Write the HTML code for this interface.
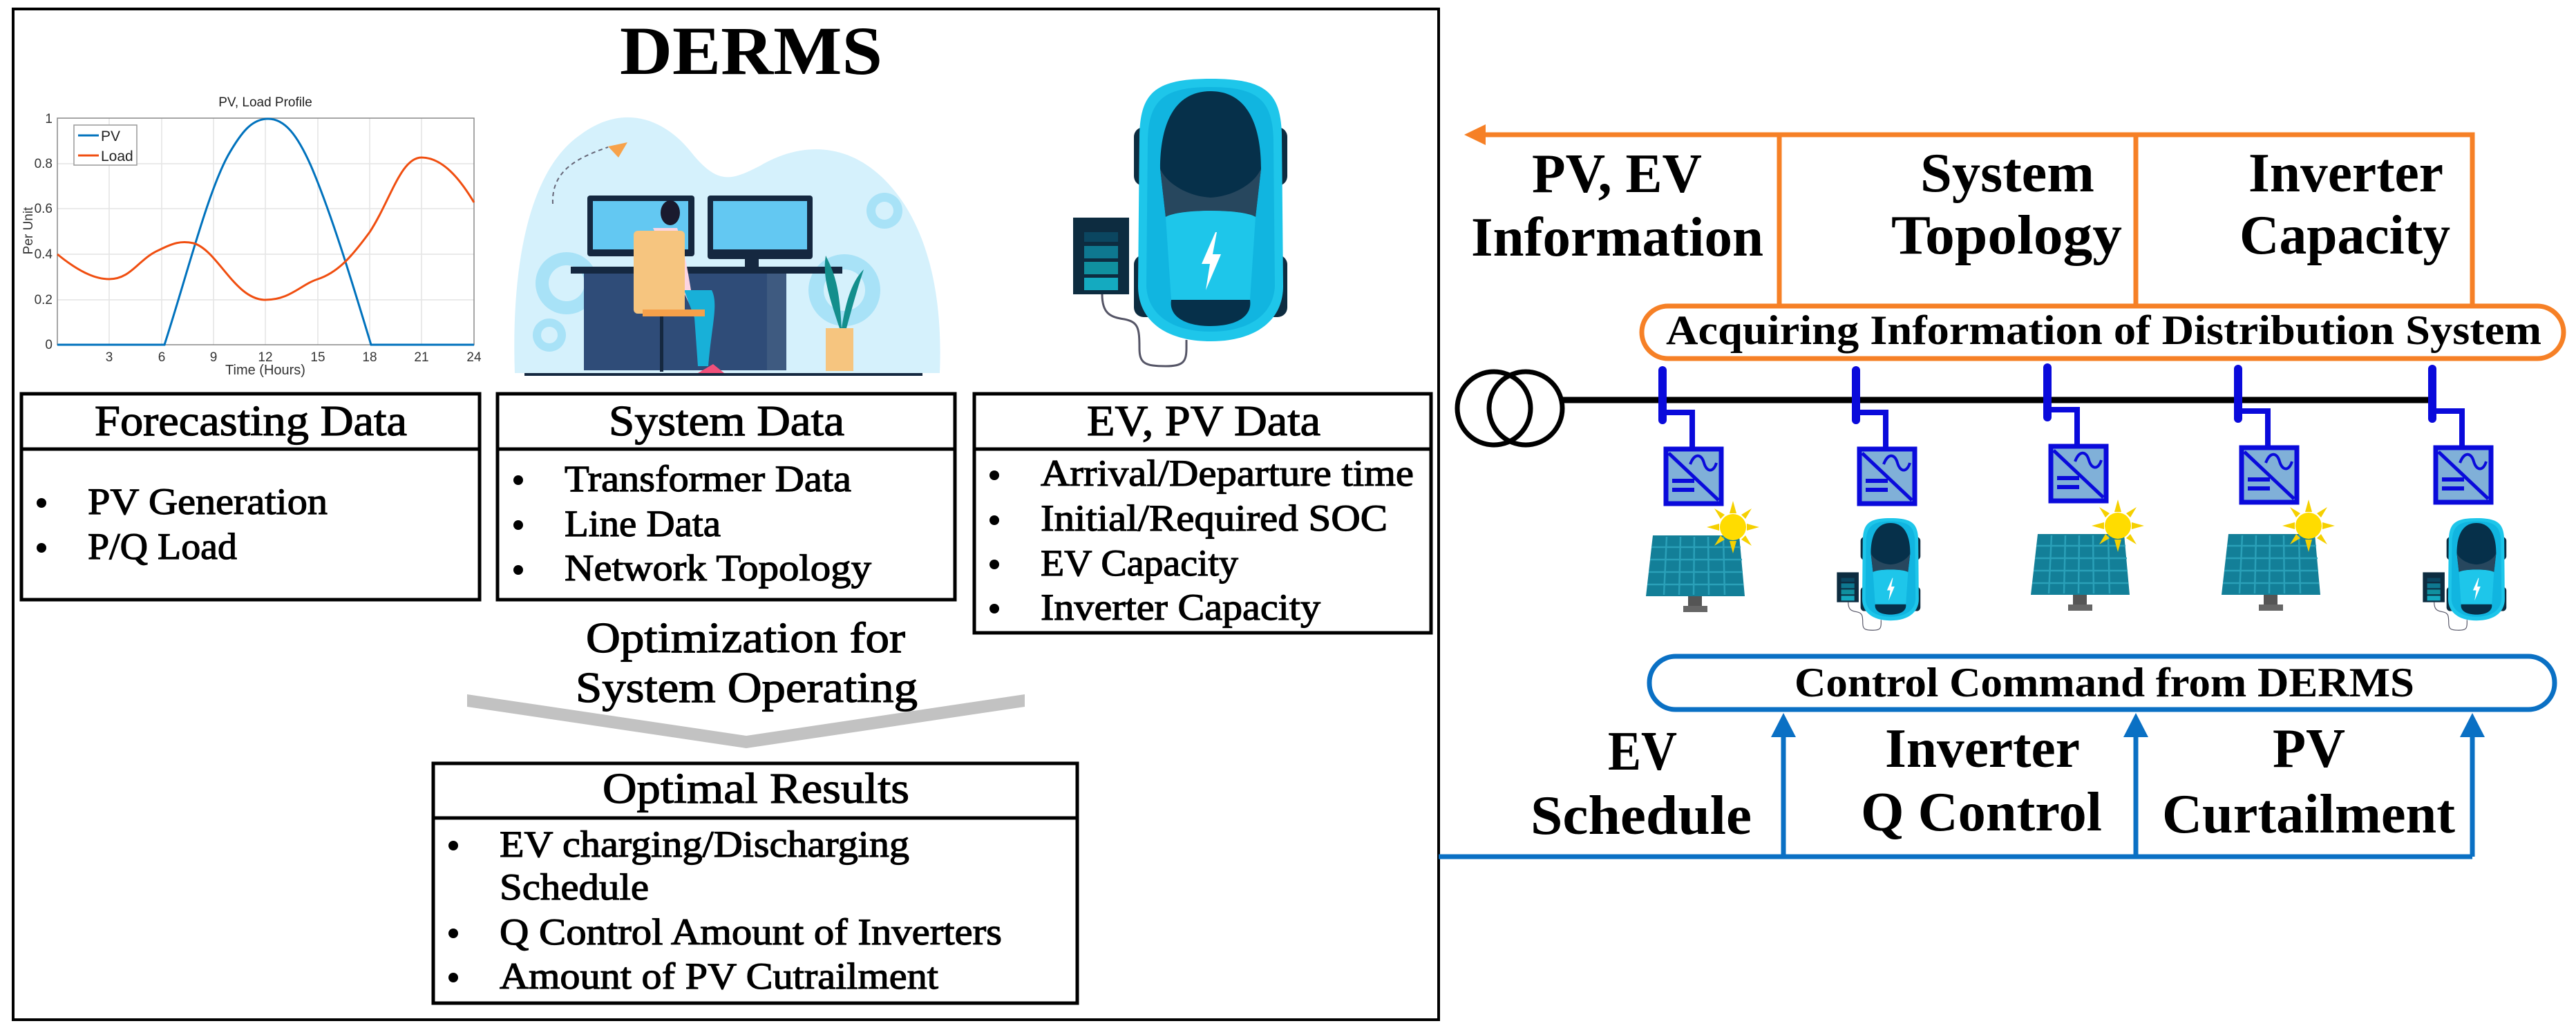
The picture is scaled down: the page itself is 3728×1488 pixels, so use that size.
<!DOCTYPE html>
<html><head><meta charset="utf-8"><style>
html,body{margin:0;padding:0;background:#fff}
svg{display:block}
.s{font-family:"Liberation Serif",serif;stroke:#000;stroke-width:1.2}
.b{font-family:"Liberation Serif",serif;font-weight:bold}
.a{font-family:"Liberation Sans",sans-serif}
</style></head><body>
<svg width="3728" height="1488" viewBox="0 0 3728 1488" xmlns="http://www.w3.org/2000/svg">
<defs>
<g id="car">
  <rect x="-6" y="70" width="222" height="85" rx="14" fill="#0d2c40"/>
  <rect x="-6" y="255" width="222" height="90" rx="14" fill="#0d2c40"/>
  <path d="M105,0 C185,0 206,20 208,80 L210,300 C210,350 170,380 105,380 C40,380 0,350 0,300 L2,80 C4,20 25,0 105,0 Z" fill="#1ec6ea"/>
  <path d="M105,12 C172,12 195,30 196,90 L198,300 C196,342 160,366 105,366 C50,366 14,342 12,300 L14,90 C15,30 38,12 105,12 Z" fill="#11b5e0"/>
  <path d="M105,18 C160,18 178,70 178,130 L170,200 C150,188 60,188 40,200 L32,130 C32,70 50,18 105,18 Z" fill="#06304a"/>
  <path d="M40,200 C60,188 150,188 170,200 L178,130 C170,150 140,170 105,172 C70,170 40,150 32,130 Z" fill="#27475e"/>
  <path d="M40,200 C60,188 150,188 170,200 L162,320 L48,320 Z" fill="#1ec6ea"/>
  <path d="M48,320 L162,320 C166,345 140,358 105,358 C70,358 44,345 48,320 Z" fill="#06304a"/>
  <polygon points="112,222 92,268 104,268 98,306 120,254 108,254 114,222" fill="#fff"/>
  <rect x="-94" y="201" width="81" height="111" fill="#0d2c40"/>
  <rect x="-78" y="222" width="49" height="14" fill="#0b4660"/>
  <rect x="-78" y="242" width="49" height="18" fill="#0e7890"/>
  <rect x="-78" y="265" width="49" height="18" fill="#10909f"/>
  <rect x="-78" y="288" width="49" height="18" fill="#14aac0"/>
  <path d="M-52,312 C-52,340 -40,345 -20,348 C0,352 2,360 2,390 C2,412 10,416 40,416 C65,416 70,410 70,390 L70,378" fill="none" stroke="#556" stroke-width="3"/>
</g>
<g id="inv">
  <path d="M0,-39 L43,-39 L43,14" fill="none" stroke="#0a0adb" stroke-width="8"/>
  <path d="M0,-100 L0,-28" stroke="#0a0adb" stroke-width="12" stroke-linecap="round"/>
  <rect x="5" y="14" width="80" height="79" fill="#80b0d8" stroke="#0a0adb" stroke-width="7"/>
  <line x1="9" y1="20" x2="81" y2="88" stroke="#0a0adb" stroke-width="5"/>
  <path d="M40,36 C46,20 56,20 60,34 C64,48 74,48 78,34" fill="none" stroke="#0a0adb" stroke-width="4"/>
  <rect x="14" y="57" width="32" height="6" fill="#0a0adb"/>
  <rect x="14" y="70" width="32" height="6" fill="#0a0adb"/>
</g>
<g id="pv">
  <rect x="61" y="88" width="20" height="15" fill="#555"/>
  <rect x="54" y="102" width="35" height="9" fill="#666"/>
  <polygon points="10,0 135,0 143,88 0,88" fill="#137f98"/>
  <g stroke="#2aa0b8" stroke-width="2.5">
   <line x1="8" y1="17" x2="137" y2="17"/><line x1="6" y1="35" x2="139" y2="35"/><line x1="4" y1="53" x2="140" y2="53"/><line x1="2" y1="71" x2="141" y2="71"/>
   <line x1="30" y1="2" x2="26" y2="86"/><line x1="50" y1="2" x2="48" y2="86"/><line x1="70" y1="2" x2="69" y2="86"/><line x1="90" y1="2" x2="91" y2="86"/><line x1="112" y1="2" x2="114" y2="86"/>
  </g>
  <g transform="translate(126,-12)">
   <g fill="#f5d000">
    <polygon points="0,-38 -5,-20 5,-20"/><polygon points="0,38 -5,20 5,20"/><polygon points="-38,0 -20,-5 -20,5"/><polygon points="38,0 20,-5 20,5"/>
    <polygon points="-27,-27 -12,-18 -18,-12"/><polygon points="27,-27 12,-18 18,-12"/><polygon points="-27,27 -12,18 -18,12"/><polygon points="27,27 12,18 18,12"/>
   </g>
   <circle r="19" fill="#ffdc00"/>
  </g>
</g>
</defs>

<rect x="19" y="13" width="2063" height="1463" fill="none" stroke="#000" stroke-width="4"/>
<text class="b" x="1087" y="107" font-size="100" text-anchor="middle" textLength="380" lengthAdjust="spacingAndGlyphs">DERMS</text>

<text class="a" x="384" y="154" font-size="19" text-anchor="middle" fill="#222">PV, Load Profile</text>
<g stroke="#e4e4e4" stroke-width="1.5">
 <line x1="158" y1="171" x2="158" y2="499"/><line x1="234" y1="171" x2="234" y2="499"/><line x1="309" y1="171" x2="309" y2="499"/><line x1="384" y1="171" x2="384" y2="499"/><line x1="460" y1="171" x2="460" y2="499"/><line x1="535" y1="171" x2="535" y2="499"/><line x1="610" y1="171" x2="610" y2="499"/>
 <line x1="83" y1="237" x2="686" y2="237"/><line x1="83" y1="302" x2="686" y2="302"/><line x1="83" y1="368" x2="686" y2="368"/><line x1="83" y1="434" x2="686" y2="434"/>
</g>
<rect x="83" y="171" width="603" height="328" fill="none" stroke="#888" stroke-width="1.5"/>
<g class="a" font-size="19" fill="#333" text-anchor="end">
 <text x="76" y="178">1</text><text x="76" y="243">0.8</text><text x="76" y="308">0.6</text><text x="76" y="374">0.4</text><text x="76" y="440">0.2</text><text x="76" y="505">0</text>
</g>
<g class="a" font-size="19" fill="#333" text-anchor="middle">
 <text x="158" y="523">3</text><text x="234" y="523">6</text><text x="309" y="523">9</text><text x="384" y="523">12</text><text x="460" y="523">15</text><text x="535" y="523">18</text><text x="610" y="523">21</text><text x="686" y="523">24</text>
</g>
<text class="a" x="384" y="542" font-size="20" text-anchor="middle" fill="#333">Time (Hours)</text>
<text class="a" transform="translate(47,334) rotate(-90)" font-size="19" text-anchor="middle" fill="#333">Per Unit</text>
<path d="M83,499 L238,499 C270,400 300,280 330,225 C350,190 365,172 388,172 C412,172 430,195 450,240 C480,310 510,410 537,499 L686,499" fill="none" stroke="#0072bd" stroke-width="3"/>
<path d="M83,368 C110,390 135,404 158,404 C190,404 200,375 230,362 C250,352 262,348 280,352 C315,362 340,434 384,434 C420,434 435,412 460,404 C490,394 510,370 535,336 C565,290 580,228 610,228 C640,228 665,258 686,293" fill="none" stroke="#f04e10" stroke-width="3"/>
<rect x="107" y="181" width="91" height="58" fill="#fff" stroke="#999" stroke-width="1.5"/>
<line x1="113" y1="196" x2="143" y2="196" stroke="#0072bd" stroke-width="3"/>
<line x1="113" y1="225" x2="143" y2="225" stroke="#f04e10" stroke-width="3"/>
<text class="a" x="146" y="204" font-size="21" fill="#222">PV</text>
<text class="a" x="146" y="233" font-size="21" fill="#222">Load</text>

<path d="M745,540 C740,400 760,250 840,195 C900,150 960,170 1000,220 C1040,270 1060,260 1100,240 C1150,210 1220,200 1280,260 C1340,320 1365,420 1360,540 Z" fill="#d5f1fc"/>
<g fill="#a8e2f7">
 <circle cx="1280" cy="305" r="26"/><circle cx="1222" cy="420" r="52"/><circle cx="820" cy="410" r="45"/><circle cx="795" cy="485" r="24"/>
</g>
<g fill="#d5f1fc"><circle cx="1280" cy="305" r="13"/><circle cx="1222" cy="420" r="30"/><circle cx="820" cy="410" r="26"/><circle cx="795" cy="485" r="12"/></g>
<path d="M800,295 C798,250 830,230 880,213" fill="none" stroke="#667" stroke-width="2" stroke-dasharray="6,5"/>
<polygon points="880,212 908,206 895,228" fill="#f7a24a"/>
<rect x="850" y="283" width="155" height="88" rx="4" fill="#152840"/>
<rect x="858" y="291" width="138" height="70" fill="#63c8f2"/>
<rect x="1024" y="283" width="152" height="92" rx="4" fill="#152840"/>
<rect x="1032" y="291" width="136" height="70" fill="#63c8f2"/>
<rect x="1078" y="375" width="20" height="18" fill="#152840"/>
<rect x="826" y="386" width="393" height="10" fill="#152840"/>
<rect x="845" y="396" width="290" height="140" fill="#2f4c78"/>
<rect x="1110" y="396" width="28" height="140" fill="#3e5a80"/>
<path d="M945,330 L980,330 C990,360 995,390 1000,420 L1010,440 L1000,445 Z" fill="#fcd4e2"/>
<ellipse cx="970" cy="308" rx="14" ry="18" fill="#1a1a2e"/>
<path d="M990,420 L1030,420 C1040,440 1030,470 1025,530 L1010,530 L1005,460 Z" fill="#18b0d8"/>
<rect x="917" y="334" width="74" height="120" rx="6" fill="#f6c57f"/>
<rect x="930" y="448" width="90" height="10" fill="#f5a04a"/>
<rect x="955" y="458" width="5" height="80" fill="#152840"/>
<path d="M1010,540 L1032,527 L1048,540 Z" fill="#f0507a"/>
<rect x="1195" y="475" width="40" height="62" fill="#f6c57f"/>
<path d="M1215,475 C1200,430 1190,400 1195,370 C1210,400 1215,420 1218,475 C1225,430 1235,405 1250,390 C1240,420 1232,450 1225,475 Z" fill="#138e8c"/>
<line x1="759" y1="542" x2="1335" y2="542" stroke="#152840" stroke-width="4"/>

<use href="#car" transform="translate(1647,114)"/>

<g fill="none" stroke="#000" stroke-width="5">
 <rect x="31" y="570" width="663" height="298"/><line x1="31" y1="650" x2="694" y2="650"/>
 <rect x="720" y="570" width="662" height="298"/><line x1="720" y1="650" x2="1382" y2="650"/>
 <rect x="1410" y="570" width="661" height="346"/><line x1="1410" y1="650" x2="2071" y2="650"/>
 <rect x="627" y="1105" width="932" height="347"/><line x1="627" y1="1184" x2="1559" y2="1184"/>
</g>
<g class="s" font-size="62">
 <text x="137" y="630" textLength="452" lengthAdjust="spacingAndGlyphs">Forecasting Data</text>
 <text x="881" y="630" textLength="341" lengthAdjust="spacingAndGlyphs">System Data</text>
 <text x="1573" y="630" textLength="338" lengthAdjust="spacingAndGlyphs">EV, PV Data</text>
 <text x="872" y="1162" textLength="444" lengthAdjust="spacingAndGlyphs">Optimal Results</text>
 <text x="848" y="944" textLength="462" lengthAdjust="spacingAndGlyphs">Optimization for</text>
 <text x="833" y="1016" textLength="495" lengthAdjust="spacingAndGlyphs">System Operating</text>
</g>
<g class="s" font-size="54">
 <text x="127" y="744" textLength="347" lengthAdjust="spacingAndGlyphs">PV Generation</text>
 <text x="127" y="809" textLength="216" lengthAdjust="spacingAndGlyphs">P/Q Load</text>
 <text x="817" y="711" textLength="415" lengthAdjust="spacingAndGlyphs">Transformer Data</text>
 <text x="817" y="776" textLength="226" lengthAdjust="spacingAndGlyphs">Line Data</text>
 <text x="817" y="840" textLength="444" lengthAdjust="spacingAndGlyphs">Network Topology</text>
 <text x="1506" y="703" textLength="540" lengthAdjust="spacingAndGlyphs">Arrival/Departure time</text>
 <text x="1506" y="768" textLength="502" lengthAdjust="spacingAndGlyphs">Initial/Required SOC</text>
 <text x="1506" y="833" textLength="286" lengthAdjust="spacingAndGlyphs">EV Capacity</text>
 <text x="1506" y="897" textLength="405" lengthAdjust="spacingAndGlyphs">Inverter Capacity</text>
 <text x="723" y="1240" textLength="593" lengthAdjust="spacingAndGlyphs">EV charging/Discharging</text>
 <text x="723" y="1302" textLength="216" lengthAdjust="spacingAndGlyphs">Schedule</text>
 <text x="723" y="1367" textLength="727" lengthAdjust="spacingAndGlyphs">Q Control Amount of Inverters</text>
 <text x="723" y="1431" textLength="635" lengthAdjust="spacingAndGlyphs">Amount of PV Cutrailment</text>
</g>
<g fill="#000">
 <circle cx="60" cy="728" r="7"/><circle cx="60" cy="793" r="7"/>
 <circle cx="750" cy="695" r="7"/><circle cx="750" cy="760" r="7"/><circle cx="750" cy="825" r="7"/>
 <circle cx="1439" cy="688" r="7"/><circle cx="1439" cy="753" r="7"/><circle cx="1439" cy="817" r="7"/><circle cx="1439" cy="881" r="7"/>
 <circle cx="656" cy="1224" r="7"/><circle cx="656" cy="1351" r="7"/><circle cx="656" cy="1415" r="7"/>
</g>
<polygon points="676,1005 1080,1065 1483,1005 1483,1023 1080,1083 676,1023" fill="#c2c2c2"/>

<g stroke="#f68026" stroke-width="7" fill="none">
 <polyline points="2148,195 3578,195 3578,441"/>
 <line x1="2575" y1="195" x2="2575" y2="441"/>
 <line x1="3091" y1="195" x2="3091" y2="441"/>
 <rect x="2376" y="443" width="1334" height="76" rx="38"/>
</g>
<polygon points="2119,195 2150,180 2150,210" fill="#f68026"/>
<g class="b" font-size="80">
 <text x="2217" y="278" textLength="246" lengthAdjust="spacingAndGlyphs">PV, EV</text>
 <text x="2129" y="370" textLength="423" lengthAdjust="spacingAndGlyphs">Information</text>
 <text x="2779" y="277" textLength="252" lengthAdjust="spacingAndGlyphs">System</text>
 <text x="2737" y="367" textLength="334" lengthAdjust="spacingAndGlyphs">Topology</text>
 <text x="3254" y="277" textLength="282" lengthAdjust="spacingAndGlyphs">Inverter</text>
 <text x="3241" y="367" textLength="305" lengthAdjust="spacingAndGlyphs">Capacity</text>
 <text x="2327" y="1114" textLength="100" lengthAdjust="spacingAndGlyphs">EV</text>
 <text x="2215" y="1207" textLength="320" lengthAdjust="spacingAndGlyphs">Schedule</text>
 <text x="2728" y="1110" textLength="282" lengthAdjust="spacingAndGlyphs">Inverter</text>
 <text x="2693" y="1202" textLength="349" lengthAdjust="spacingAndGlyphs">Q Control</text>
 <text x="3289" y="1110" textLength="105" lengthAdjust="spacingAndGlyphs">PV</text>
 <text x="3129" y="1205" textLength="424" lengthAdjust="spacingAndGlyphs">Curtailment</text>
</g>
<text class="b" x="2411" y="498" font-size="60" textLength="1267" lengthAdjust="spacingAndGlyphs">Acquiring Information of Distribution System</text>

<circle cx="2162" cy="591" r="53" fill="none" stroke="#000" stroke-width="7"/>
<circle cx="2208" cy="591" r="53" fill="none" stroke="#000" stroke-width="7"/>
<line x1="2261" y1="579" x2="3522" y2="579" stroke="#000" stroke-width="9"/>
<use href="#inv" transform="translate(2406,636)"/>
<use href="#inv" transform="translate(2686,636)"/>
<use href="#inv" transform="translate(2963,632)"/>
<use href="#inv" transform="translate(3239,634)"/>
<use href="#inv" transform="translate(3520,634)"/>
<use href="#pv" transform="translate(2382,775)"/>
<use href="#pv" transform="translate(2939,773)"/>
<use href="#pv" transform="translate(3215,773)"/>
<use href="#car" transform="translate(2695,750) scale(0.39)"/>
<use href="#car" transform="translate(3543,750) scale(0.39)"/>

<rect x="2387" y="950" width="1310" height="77" rx="38" fill="none" stroke="#0a70c4" stroke-width="7"/>
<text class="b" x="2597" y="1008" font-size="60" textLength="897" lengthAdjust="spacingAndGlyphs">Control Command from DERMS</text>
<g stroke="#0a70c4" stroke-width="7" fill="none">
 <polyline points="2082,1240 3578,1240"/>
 <line x1="2581" y1="1240" x2="2581" y2="1062"/>
 <line x1="3091" y1="1240" x2="3091" y2="1062"/>
 <line x1="3578" y1="1240" x2="3578" y2="1062"/>
</g>
<g fill="#0a70c4">
 <polygon points="2581,1032 2563,1067 2599,1067"/>
 <polygon points="3091,1032 3073,1067 3109,1067"/>
 <polygon points="3578,1032 3560,1067 3596,1067"/>
</g>
</svg>
</body></html>
